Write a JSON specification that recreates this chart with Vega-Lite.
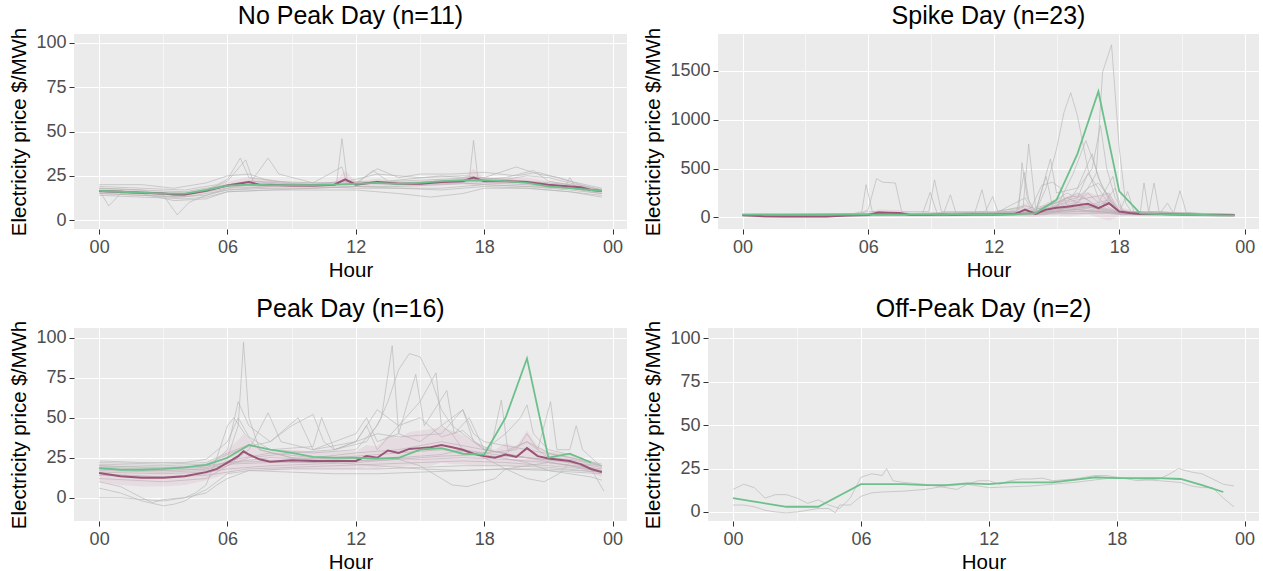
{
"$schema": "https://vega.github.io/schema/vega-lite/v6.json",
"padding": {"left": 9, "top": 4, "right": 0, "bottom": 0},
"spacing": 16,
"config": {
 "view": {"fill": "#EBEBEB", "stroke": null},
 "font": "Liberation Sans",
 "axis": {"domain": false, "gridColor": "#FFFFFF", "tickColor": "#333333", "tickSize": 5, "tickWidth": 1, "labelColor": "#4D4D4D", "labelFontSize": 18, "titleFontSize": 20.5, "titleFontWeight": "normal", "titleColor": "#000000", "labelPadding": 4.5, "titlePadding": 4, "labelFlush": false, "labelOverlap": false},
 "axisY": {"titlePadding": 6, "labelPadding": 3},
 "title": {"fontSize": 25, "fontWeight": "normal", "color": "#000000", "anchor": "middle", "frame": "group", "offset": -2}
},
"datasets": {
"g1": [
{"s":1,"h":0,"v":19},{"s":1,"h":2,"v":18},{"s":1,"h":4,"v":17},{"s":1,"h":5.5,"v":20},{"s":1,"h":6,"v":23},{"s":1,"h":6.6,"v":35},{"s":1,"h":7,"v":24},{"s":1,"h":9,"v":21},{"s":1,"h":11,"v":21},{"s":1,"h":12,"v":23},{"s":1,"h":13,"v":26},{"s":1,"h":15,"v":24},{"s":1,"h":17,"v":25},{"s":1,"h":18,"v":24},{"s":1,"h":19.5,"v":30},{"s":1,"h":20.5,"v":26},{"s":1,"h":21.5,"v":24},{"s":1,"h":22.5,"v":20},{"s":1,"h":23.5,"v":17},
{"s":2,"h":0,"v":17},{"s":2,"h":0.45,"v":8},{"s":2,"h":1,"v":15},{"s":2,"h":3,"v":15},{"s":2,"h":4,"v":14},{"s":2,"h":5,"v":17},{"s":2,"h":6,"v":22},{"s":2,"h":6.85,"v":34},{"s":2,"h":7.2,"v":22},{"s":2,"h":10,"v":20},{"s":2,"h":11.1,"v":21},{"s":2,"h":11.35,"v":46},{"s":2,"h":11.6,"v":22},{"s":2,"h":14,"v":21},{"s":2,"h":16,"v":22},{"s":2,"h":17.3,"v":22},{"s":2,"h":17.5,"v":45},{"s":2,"h":17.7,"v":24},{"s":2,"h":20,"v":22},{"s":2,"h":22,"v":20},{"s":2,"h":23.5,"v":16},
{"s":3,"h":0,"v":18},{"s":3,"h":2,"v":17},{"s":3,"h":3,"v":14},{"s":3,"h":3.65,"v":3},{"s":3,"h":4.2,"v":10},{"s":3,"h":5,"v":14},{"s":3,"h":6,"v":18},{"s":3,"h":7,"v":20},{"s":3,"h":7.9,"v":35},{"s":3,"h":8.4,"v":26},{"s":3,"h":10,"v":21},{"s":3,"h":11.35,"v":30},{"s":3,"h":11.6,"v":20},{"s":3,"h":13,"v":22},{"s":3,"h":15,"v":20},{"s":3,"h":17,"v":21},{"s":3,"h":18,"v":20},{"s":3,"h":20,"v":19},{"s":3,"h":22,"v":18},{"s":3,"h":23.5,"v":15},
{"s":4,"h":0,"v":15},{"s":4,"h":2,"v":14},{"s":4,"h":4,"v":13},{"s":4,"h":6,"v":17},{"s":4,"h":8,"v":18},{"s":4,"h":10,"v":18},{"s":4,"h":12,"v":19},{"s":4,"h":14,"v":18},{"s":4,"h":16,"v":17},{"s":4,"h":18,"v":19},{"s":4,"h":20,"v":18},{"s":4,"h":22,"v":16},{"s":4,"h":23.5,"v":14},
{"s":5,"h":0,"v":16},{"s":5,"h":2,"v":15},{"s":5,"h":4,"v":14},{"s":5,"h":6,"v":18},{"s":5,"h":8,"v":19},{"s":5,"h":10,"v":20},{"s":5,"h":12,"v":20},{"s":5,"h":12.8,"v":28},{"s":5,"h":13.5,"v":22},{"s":5,"h":16,"v":25},{"s":5,"h":18,"v":23},{"s":5,"h":19,"v":24},{"s":5,"h":20.3,"v":28},{"s":5,"h":21,"v":22},{"s":5,"h":23.5,"v":17},
{"s":6,"h":0,"v":14},{"s":6,"h":2,"v":13},{"s":6,"h":4,"v":12},{"s":6,"h":5,"v":13},{"s":6,"h":6,"v":16},{"s":6,"h":8,"v":17},{"s":6,"h":10,"v":17},{"s":6,"h":12,"v":17},{"s":6,"h":14,"v":15},{"s":6,"h":15.5,"v":13},{"s":6,"h":17,"v":15},{"s":6,"h":18,"v":18},{"s":6,"h":20,"v":18},{"s":6,"h":22,"v":16},{"s":6,"h":23.5,"v":13},
{"s":7,"h":0,"v":20},{"s":7,"h":2,"v":20},{"s":7,"h":3.5,"v":18},{"s":7,"h":5,"v":21},{"s":7,"h":6,"v":25},{"s":7,"h":7,"v":26},{"s":7,"h":8,"v":22},{"s":7,"h":10,"v":21},{"s":7,"h":12,"v":21},{"s":7,"h":13,"v":29},{"s":7,"h":14,"v":24},{"s":7,"h":15,"v":26},{"s":7,"h":16.5,"v":26},{"s":7,"h":18,"v":27},{"s":7,"h":19.5,"v":25},{"s":7,"h":20.5,"v":27},{"s":7,"h":22,"v":22},{"s":7,"h":23.5,"v":18},
{"s":8,"h":0,"v":17},{"s":8,"h":2,"v":16},{"s":8,"h":4,"v":15},{"s":8,"h":6,"v":19},{"s":8,"h":8,"v":20},{"s":8,"h":10,"v":19},{"s":8,"h":12,"v":21},{"s":8,"h":14,"v":20},{"s":8,"h":16,"v":21},{"s":8,"h":18,"v":22},{"s":8,"h":20,"v":21},{"s":8,"h":21.8,"v":19},{"s":8,"h":22,"v":24},{"s":8,"h":22.3,"v":18},{"s":8,"h":23.5,"v":16},
{"s":9,"h":0,"v":15},{"s":9,"h":2,"v":14},{"s":9,"h":3.5,"v":13},{"s":9,"h":5,"v":14},{"s":9,"h":6,"v":17},{"s":9,"h":8,"v":19},{"s":9,"h":10,"v":19},{"s":9,"h":12,"v":18},{"s":9,"h":14,"v":18},{"s":9,"h":16,"v":18},{"s":9,"h":18,"v":20},{"s":9,"h":20,"v":19},{"s":9,"h":22,"v":17},{"s":9,"h":23.5,"v":15},
{"s":10,"h":0,"v":18},{"s":10,"h":2,"v":17},{"s":10,"h":4,"v":16},{"s":10,"h":6,"v":20},{"s":10,"h":7,"v":22},{"s":10,"h":8,"v":21},{"s":10,"h":10,"v":20},{"s":10,"h":11.35,"v":22},{"s":10,"h":12,"v":21},{"s":10,"h":14,"v":22},{"s":10,"h":16,"v":23},{"s":10,"h":17.5,"v":24},{"s":10,"h":19,"v":23},{"s":10,"h":20,"v":25},{"s":10,"h":21,"v":24},{"s":10,"h":22,"v":21},{"s":10,"h":23.5,"v":17},
{"s":11,"h":0,"v":16},{"s":11,"h":2,"v":15},{"s":11,"h":3.5,"v":11},{"s":11,"h":5,"v":12},{"s":11,"h":6,"v":16},{"s":11,"h":8,"v":17},{"s":11,"h":10,"v":18},{"s":11,"h":12,"v":19},{"s":11,"h":14,"v":19},{"s":11,"h":16,"v":20},{"s":11,"h":18,"v":21},{"s":11,"h":20,"v":20},{"s":11,"h":22,"v":18},{"s":11,"h":23.5,"v":16}
],
"m1": [
{"h":0,"m":16.5,"lo":15,"hi":18},{"h":1,"m":16,"lo":14.5,"hi":17.5},{"h":2,"m":15.5,"lo":14,"hi":17},{"h":3,"m":15,"lo":13.5,"hi":16.5},{"h":3.5,"m":14.5,"lo":12,"hi":16.5},{"h":4,"m":14.5,"lo":13,"hi":16},{"h":5,"m":16.5,"lo":15,"hi":18},{"h":6,"m":19.5,"lo":18,"hi":21.5},{"h":7,"m":21.5,"lo":19,"hi":24.5},{"h":7.5,"m":20,"lo":17.5,"hi":23},{"h":8,"m":20,"lo":17.5,"hi":23},{"h":9,"m":19.5,"lo":18,"hi":21},{"h":10,"m":19.5,"lo":18,"hi":21},{"h":11,"m":20,"lo":18.5,"hi":21.5},{"h":11.5,"m":23,"lo":18,"hi":28},{"h":12,"m":20,"lo":18.5,"hi":21.5},{"h":13,"m":21.5,"lo":19.5,"hi":23.5},{"h":14,"m":20.5,"lo":19,"hi":22},{"h":15,"m":20.5,"lo":19,"hi":22},{"h":16,"m":21.5,"lo":19.5,"hi":23.5},{"h":17,"m":22,"lo":20.5,"hi":23.5},{"h":17.5,"m":24,"lo":19,"hi":29},{"h":18,"m":22,"lo":20.5,"hi":23.5},{"h":19,"m":22,"lo":20.5,"hi":24},{"h":20,"m":21.5,"lo":19.5,"hi":24},{"h":21,"m":20,"lo":18,"hi":22},{"h":22,"m":19,"lo":17.5,"hi":20.5},{"h":22.5,"m":18.5,"lo":17,"hi":20},{"h":23,"m":17,"lo":15.5,"hi":18.5},{"h":23.5,"m":16.5,"lo":15,"hi":18}
],
"c1": [
{"h":0,"v":16.5},{"h":1,"v":16},{"h":2,"v":15.5},{"h":3,"v":15},{"h":4,"v":15},{"h":5,"v":17},{"h":6,"v":19.5},{"h":7,"v":20},{"h":8,"v":19.8},{"h":9,"v":19.8},{"h":10,"v":19.8},{"h":11,"v":20},{"h":12,"v":20.5},{"h":13,"v":21},{"h":14,"v":20.5},{"h":15,"v":21},{"h":16,"v":22},{"h":17,"v":22.5},{"h":18,"v":22.5},{"h":19,"v":22},{"h":20,"v":21},{"h":21,"v":19},{"h":22,"v":18},{"h":23,"v":17},{"h":23.5,"v":16.5}
],
"g2": [
{"s":1,"h":0,"v":25},{"s":1,"h":5,"v":25},{"s":1,"h":5.7,"v":60},{"s":1,"h":5.9,"v":335},{"s":1,"h":6.2,"v":60},{"s":1,"h":8,"v":40},{"s":1,"h":12,"v":40},{"s":1,"h":13.2,"v":80},{"s":1,"h":13.35,"v":560},{"s":1,"h":13.6,"v":200},{"s":1,"h":14,"v":60},{"s":1,"h":16,"v":80},{"s":1,"h":18,"v":40},{"s":1,"h":23.5,"v":25},
{"s":2,"h":0,"v":20},{"s":2,"h":5.5,"v":30},{"s":2,"h":6,"v":80},{"s":2,"h":6.4,"v":397},{"s":2,"h":6.7,"v":360},{"s":2,"h":7.3,"v":352},{"s":2,"h":7.6,"v":60},{"s":2,"h":8.9,"v":60},{"s":2,"h":9.17,"v":385},{"s":2,"h":9.5,"v":60},{"s":2,"h":12,"v":60},{"s":2,"h":13.4,"v":100},{"s":2,"h":13.67,"v":750},{"s":2,"h":14,"v":100},{"s":2,"h":15,"v":150},{"s":2,"h":16,"v":250},{"s":2,"h":17,"v":100},{"s":2,"h":18,"v":50},{"s":2,"h":23.5,"v":20},
{"s":3,"h":0,"v":30},{"s":3,"h":8.6,"v":40},{"s":3,"h":8.96,"v":256},{"s":3,"h":9.3,"v":40},{"s":3,"h":11.1,"v":50},{"s":3,"h":11.44,"v":283},{"s":3,"h":11.7,"v":50},{"s":3,"h":14,"v":60},{"s":3,"h":14.71,"v":597},{"s":3,"h":15,"v":250},{"s":3,"h":16,"v":300},{"s":3,"h":16.7,"v":650},{"s":3,"h":17,"v":400},{"s":3,"h":17.5,"v":200},{"s":3,"h":18,"v":80},{"s":3,"h":19,"v":40},{"s":3,"h":23.5,"v":30},
{"s":4,"h":0,"v":25},{"s":4,"h":9.6,"v":40},{"s":4,"h":9.93,"v":232},{"s":4,"h":10.2,"v":40},{"s":4,"h":11.6,"v":60},{"s":4,"h":11.95,"v":214},{"s":4,"h":12.2,"v":60},{"s":4,"h":13.1,"v":60},{"s":4,"h":13.46,"v":461},{"s":4,"h":13.7,"v":150},{"s":4,"h":14,"v":50},{"s":4,"h":15,"v":60},{"s":4,"h":16,"v":80},{"s":4,"h":17,"v":120},{"s":4,"h":18,"v":50},{"s":4,"h":23.5,"v":25},
{"s":5,"h":0,"v":30},{"s":5,"h":12,"v":40},{"s":5,"h":14,"v":60},{"s":5,"h":14.5,"v":300},{"s":5,"h":15,"v":700},{"s":5,"h":15.36,"v":1076},{"s":5,"h":15.68,"v":1274},{"s":5,"h":16,"v":1040},{"s":5,"h":16.5,"v":495},{"s":5,"h":17,"v":200},{"s":5,"h":17.5,"v":100},{"s":5,"h":18,"v":50},{"s":5,"h":23.5,"v":30},
{"s":6,"h":0,"v":20},{"s":6,"h":12,"v":30},{"s":6,"h":15,"v":60},{"s":6,"h":16,"v":150},{"s":6,"h":16.5,"v":300},{"s":6,"h":16.9,"v":450},{"s":6,"h":17.2,"v":1485},{"s":6,"h":17.63,"v":1765},{"s":6,"h":18,"v":700},{"s":6,"h":18.3,"v":150},{"s":6,"h":18.6,"v":50},{"s":6,"h":23.5,"v":20},
{"s":7,"h":0,"v":25},{"s":7,"h":13,"v":40},{"s":7,"h":13.8,"v":100},{"s":7,"h":14.3,"v":330},{"s":7,"h":14.8,"v":360},{"s":7,"h":15.2,"v":300},{"s":7,"h":15.5,"v":120},{"s":7,"h":16,"v":80},{"s":7,"h":17,"v":60},{"s":7,"h":18,"v":40},{"s":7,"h":23.5,"v":25},
{"s":8,"h":0,"v":20},{"s":8,"h":14,"v":40},{"s":8,"h":15,"v":100},{"s":8,"h":15.8,"v":450},{"s":8,"h":16.4,"v":785},{"s":8,"h":16.8,"v":550},{"s":8,"h":17.2,"v":300},{"s":8,"h":17.6,"v":150},{"s":8,"h":18,"v":60},{"s":8,"h":23.5,"v":20},
{"s":9,"h":0,"v":30},{"s":9,"h":14,"v":40},{"s":9,"h":15.5,"v":150},{"s":9,"h":16.2,"v":350},{"s":9,"h":16.7,"v":500},{"s":9,"h":17.1,"v":940},{"s":9,"h":17.4,"v":500},{"s":9,"h":17.8,"v":200},{"s":9,"h":18.2,"v":60},{"s":9,"h":23.5,"v":30},
{"s":10,"h":0,"v":25},{"s":10,"h":17,"v":60},{"s":10,"h":17.8,"v":300},{"s":10,"h":18.1,"v":100},{"s":10,"h":18.4,"v":266},{"s":10,"h":18.7,"v":60},{"s":10,"h":19,"v":40},{"s":10,"h":19.18,"v":352},{"s":10,"h":19.4,"v":60},{"s":10,"h":23.5,"v":25},
{"s":11,"h":0,"v":20},{"s":11,"h":17,"v":40},{"s":11,"h":18,"v":60},{"s":11,"h":19.4,"v":50},{"s":11,"h":19.66,"v":352},{"s":11,"h":19.9,"v":60},{"s":11,"h":20.6,"v":50},{"s":11,"h":20.9,"v":273},{"s":11,"h":21.2,"v":50},{"s":11,"h":23.5,"v":20},
{"s":12,"h":0,"v":25},{"s":12,"h":14,"v":30},{"s":12,"h":15,"v":120},{"s":12,"h":15.5,"v":200},{"s":12,"h":16,"v":150},{"s":12,"h":16.5,"v":250},{"s":12,"h":17,"v":150},{"s":12,"h":17.5,"v":180},{"s":12,"h":18,"v":60},{"s":12,"h":20,"v":60},{"s":12,"h":20.3,"v":147},{"s":12,"h":20.6,"v":40},{"s":12,"h":23.5,"v":25},
{"s":13,"h":0,"v":30},{"s":13,"h":13,"v":35},{"s":13,"h":14,"v":50},{"s":13,"h":15,"v":180},{"s":13,"h":15.5,"v":250},{"s":13,"h":16,"v":200},{"s":13,"h":16.5,"v":300},{"s":13,"h":17,"v":350},{"s":13,"h":17.4,"v":250},{"s":13,"h":18,"v":40},{"s":13,"h":23.5,"v":30},
{"s":14,"h":0,"v":20},{"s":14,"h":13,"v":30},{"s":14,"h":14,"v":80},{"s":14,"h":15,"v":150},{"s":14,"h":16,"v":200},{"s":14,"h":16.5,"v":450},{"s":14,"h":17,"v":300},{"s":14,"h":17.3,"v":200},{"s":14,"h":18,"v":30},{"s":14,"h":23.5,"v":20},
{"s":15,"h":0,"v":25},{"s":15,"h":6,"v":30},{"s":15,"h":6.5,"v":60},{"s":15,"h":7,"v":40},{"s":15,"h":12,"v":35},{"s":15,"h":14,"v":45},{"s":15,"h":15,"v":80},{"s":15,"h":16,"v":100},{"s":15,"h":17,"v":150},{"s":15,"h":17.7,"v":420},{"s":15,"h":18,"v":100},{"s":15,"h":18.5,"v":30},{"s":15,"h":23.5,"v":25},
{"s":16,"h":0,"v":15},{"s":16,"h":12,"v":25},{"s":16,"h":13.5,"v":40},{"s":16,"h":14.5,"v":50},{"s":16,"h":15,"v":60},{"s":16,"h":16,"v":80},{"s":16,"h":17,"v":60},{"s":16,"h":18,"v":40},{"s":16,"h":23.5,"v":15},
{"s":17,"h":0,"v":30},{"s":17,"h":5.5,"v":40},{"s":17,"h":6,"v":60},{"s":17,"h":7,"v":50},{"s":17,"h":8,"v":40},{"s":17,"h":12,"v":50},{"s":17,"h":13.5,"v":120},{"s":17,"h":14,"v":90},{"s":17,"h":15,"v":100},{"s":17,"h":16,"v":160},{"s":17,"h":17,"v":80},{"s":17,"h":18,"v":40},{"s":17,"h":23.5,"v":30},
{"s":18,"h":0,"v":10},{"s":18,"h":1,"v":5},{"s":18,"h":4,"v":5},{"s":18,"h":5,"v":15},{"s":18,"h":12,"v":20},{"s":18,"h":14,"v":30},{"s":18,"h":15,"v":50},{"s":18,"h":16,"v":60},{"s":18,"h":17,"v":50},{"s":18,"h":18,"v":30},{"s":18,"h":23.5,"v":10},
{"s":19,"h":0,"v":35},{"s":19,"h":6,"v":40},{"s":19,"h":12,"v":45},{"s":19,"h":14,"v":60},{"s":19,"h":15.5,"v":200},{"s":19,"h":16,"v":220},{"s":19,"h":16.5,"v":180},{"s":19,"h":17,"v":100},{"s":19,"h":18,"v":50},{"s":19,"h":21,"v":45},{"s":19,"h":23.5,"v":35},
{"s":20,"h":0,"v":22},{"s":20,"h":10,"v":30},{"s":20,"h":12,"v":30},{"s":20,"h":13,"v":50},{"s":20,"h":14,"v":40},{"s":20,"h":15,"v":90},{"s":20,"h":16,"v":110},{"s":20,"h":17,"v":70},{"s":20,"h":18,"v":35},{"s":20,"h":23.5,"v":22},
{"s":21,"h":0,"v":28},{"s":21,"h":12,"v":35},{"s":21,"h":13.5,"v":200},{"s":21,"h":13.8,"v":80},{"s":21,"h":14,"v":50},{"s":21,"h":15,"v":130},{"s":21,"h":16,"v":180},{"s":21,"h":17,"v":220},{"s":21,"h":17.5,"v":250},{"s":21,"h":18,"v":60},{"s":21,"h":23.5,"v":28},
{"s":22,"h":0,"v":18},{"s":22,"h":12,"v":25},{"s":22,"h":14.5,"v":30},{"s":22,"h":15,"v":60},{"s":22,"h":16,"v":90},{"s":22,"h":17,"v":130},{"s":22,"h":17.5,"v":160},{"s":22,"h":18,"v":50},{"s":22,"h":23.5,"v":18},
{"s":23,"h":0,"v":25},{"s":23,"h":7,"v":30},{"s":23,"h":12,"v":35},{"s":23,"h":14,"v":55},{"s":23,"h":14.5,"v":420},{"s":23,"h":14.8,"v":120},{"s":23,"h":15,"v":70},{"s":23,"h":16,"v":120},{"s":23,"h":17,"v":90},{"s":23,"h":18,"v":40},{"s":23,"h":21,"v":30},{"s":23,"h":23.5,"v":25}
],
"m2": [
{"h":0,"m":25,"lo":15,"hi":35},{"h":1,"m":12,"lo":5,"hi":20},{"h":2,"m":10,"lo":3,"hi":18},{"h":3,"m":10,"lo":3,"hi":18},{"h":4,"m":10,"lo":3,"hi":18},{"h":5,"m":20,"lo":10,"hi":30},{"h":6,"m":25,"lo":10,"hi":45},{"h":6.5,"m":50,"lo":20,"hi":85},{"h":7,"m":48,"lo":20,"hi":80},{"h":7.5,"m":45,"lo":20,"hi":75},{"h":8,"m":25,"lo":15,"hi":40},{"h":9,"m":25,"lo":10,"hi":45},{"h":9.5,"m":30,"lo":10,"hi":55},{"h":10,"m":25,"lo":15,"hi":40},{"h":11,"m":30,"lo":15,"hi":45},{"h":12,"m":30,"lo":15,"hi":45},{"h":13,"m":35,"lo":15,"hi":60},{"h":13.5,"m":80,"lo":10,"hi":150},{"h":14,"m":35,"lo":5,"hi":70},{"h":14.5,"m":80,"lo":20,"hi":150},{"h":15,"m":100,"lo":20,"hi":190},{"h":15.5,"m":110,"lo":10,"hi":220},{"h":16,"m":125,"lo":20,"hi":240},{"h":16.5,"m":140,"lo":30,"hi":260},{"h":17,"m":95,"lo":0,"hi":220},{"h":17.5,"m":145,"lo":-30,"hi":250},{"h":18,"m":60,"lo":10,"hi":110},{"h":18.5,"m":45,"lo":20,"hi":75},{"h":19,"m":35,"lo":20,"hi":55},{"h":20,"m":35,"lo":20,"hi":55},{"h":21,"m":30,"lo":20,"hi":45},{"h":22,"m":25,"lo":15,"hi":35},{"h":23,"m":25,"lo":15,"hi":35},{"h":23.5,"m":25,"lo":15,"hi":35}
],
"c2": [
{"h":0,"v":28},{"h":1,"v":28},{"h":2,"v":27},{"h":3,"v":27},{"h":4,"v":27},{"h":5,"v":28},{"h":6,"v":28},{"h":7,"v":29},{"h":8,"v":29},{"h":9,"v":30},{"h":10,"v":30},{"h":11,"v":31},{"h":12,"v":31},{"h":13,"v":33},{"h":14,"v":45},{"h":15,"v":180},{"h":16,"v":650},{"h":17,"v":1287},{"h":18,"v":266},{"h":19,"v":41},{"h":20,"v":35},{"h":21,"v":30},{"h":22,"v":25},{"h":23,"v":22},{"h":23.5,"v":22}
],
"g3": [
{"s":1,"h":0,"v":20},{"s":1,"h":2,"v":19},{"s":1,"h":4,"v":19},{"s":1,"h":5,"v":20},{"s":1,"h":6,"v":25},{"s":1,"h":6.5,"v":45},{"s":1,"h":6.75,"v":97},{"s":1,"h":7,"v":50},{"s":1,"h":7.5,"v":30},{"s":1,"h":9,"v":25},{"s":1,"h":11,"v":24},{"s":1,"h":13,"v":25},{"s":1,"h":15,"v":24},{"s":1,"h":17,"v":25},{"s":1,"h":19,"v":24},{"s":1,"h":21,"v":22},{"s":1,"h":23.5,"v":18},
{"s":2,"h":0,"v":23},{"s":2,"h":2,"v":22},{"s":2,"h":4,"v":22},{"s":2,"h":5,"v":24},{"s":2,"h":6,"v":35},{"s":2,"h":6.5,"v":50},{"s":2,"h":7,"v":38},{"s":2,"h":8,"v":30},{"s":2,"h":10,"v":28},{"s":2,"h":12,"v":30},{"s":2,"h":13,"v":45},{"s":2,"h":13.5,"v":60},{"s":2,"h":14,"v":80},{"s":2,"h":14.5,"v":90},{"s":2,"h":15,"v":88},{"s":2,"h":15.5,"v":75},{"s":2,"h":16,"v":55},{"s":2,"h":16.5,"v":45},{"s":2,"h":17,"v":40},{"s":2,"h":18,"v":30},{"s":2,"h":20,"v":25},{"s":2,"h":22,"v":22},{"s":2,"h":23.5,"v":20},
{"s":3,"h":0,"v":15},{"s":3,"h":3,"v":13},{"s":3,"h":5,"v":15},{"s":3,"h":6,"v":20},{"s":3,"h":7,"v":25},{"s":3,"h":9,"v":28},{"s":3,"h":11,"v":30},{"s":3,"h":12.5,"v":35},{"s":3,"h":13.2,"v":50},{"s":3,"h":13.7,"v":95},{"s":3,"h":14,"v":40},{"s":3,"h":15,"v":35},{"s":3,"h":16,"v":45},{"s":3,"h":16.5,"v":40},{"s":3,"h":17,"v":30},{"s":3,"h":19,"v":26},{"s":3,"h":21,"v":24},{"s":3,"h":23.5,"v":19},
{"s":4,"h":0,"v":18},{"s":4,"h":3,"v":17},{"s":4,"h":5,"v":18},{"s":4,"h":6,"v":30},{"s":4,"h":6.5,"v":60},{"s":4,"h":7,"v":45},{"s":4,"h":8,"v":35},{"s":4,"h":9.3,"v":50},{"s":4,"h":10,"v":30},{"s":4,"h":12,"v":35},{"s":4,"h":13,"v":55},{"s":4,"h":14,"v":45},{"s":4,"h":15,"v":60},{"s":4,"h":15.75,"v":78},{"s":4,"h":16,"v":45},{"s":4,"h":17,"v":55},{"s":4,"h":17.5,"v":40},{"s":4,"h":18,"v":35},{"s":4,"h":20,"v":30},{"s":4,"h":22,"v":25},{"s":4,"h":23.5,"v":20},
{"s":5,"h":0,"v":12},{"s":5,"h":3,"v":10},{"s":5,"h":5,"v":12},{"s":5,"h":6,"v":20},{"s":5,"h":7,"v":30},{"s":5,"h":7.9,"v":53},{"s":5,"h":8.5,"v":35},{"s":5,"h":10,"v":30},{"s":5,"h":12,"v":40},{"s":5,"h":12.5,"v":50},{"s":5,"h":13,"v":35},{"s":5,"h":14,"v":40},{"s":5,"h":14.8,"v":77},{"s":5,"h":15.2,"v":45},{"s":5,"h":16.25,"v":67},{"s":5,"h":16.6,"v":40},{"s":5,"h":17.3,"v":50},{"s":5,"h":18,"v":30},{"s":5,"h":20,"v":25},{"s":5,"h":22,"v":20},{"s":5,"h":23.5,"v":16},
{"s":6,"h":0,"v":22},{"s":6,"h":3,"v":21},{"s":6,"h":5,"v":22},{"s":6,"h":6,"v":28},{"s":6,"h":7,"v":33},{"s":6,"h":8,"v":30},{"s":6,"h":10,"v":32},{"s":6,"h":10.4,"v":50},{"s":6,"h":11,"v":30},{"s":6,"h":13,"v":40},{"s":6,"h":14,"v":38},{"s":6,"h":16,"v":40},{"s":6,"h":17,"v":55},{"s":6,"h":17.5,"v":35},{"s":6,"h":18.3,"v":30},{"s":6,"h":18.8,"v":61},{"s":6,"h":19.1,"v":30},{"s":6,"h":20,"v":35},{"s":6,"h":21,"v":28},{"s":6,"h":23.5,"v":21},
{"s":7,"h":0,"v":17},{"s":7,"h":3,"v":16},{"s":7,"h":5,"v":17},{"s":7,"h":6,"v":23},{"s":7,"h":8,"v":28},{"s":7,"h":10,"v":25},{"s":7,"h":12,"v":28},{"s":7,"h":14,"v":30},{"s":7,"h":16,"v":35},{"s":7,"h":18,"v":30},{"s":7,"h":19,"v":40},{"s":7,"h":19.7,"v":50},{"s":7,"h":20,"v":58},{"s":7,"h":20.3,"v":40},{"s":7,"h":21,"v":30},{"s":7,"h":22,"v":27},{"s":7,"h":23.5,"v":20},
{"s":8,"h":0,"v":19},{"s":8,"h":3,"v":18},{"s":8,"h":5,"v":19},{"s":8,"h":6,"v":22},{"s":8,"h":8,"v":25},{"s":8,"h":10,"v":24},{"s":8,"h":12,"v":26},{"s":8,"h":14,"v":28},{"s":8,"h":16,"v":30},{"s":8,"h":18,"v":28},{"s":8,"h":19.5,"v":30},{"s":8,"h":20,"v":40},{"s":8,"h":20.5,"v":30},{"s":8,"h":21.1,"v":60},{"s":8,"h":21.4,"v":30},{"s":8,"h":22,"v":30},{"s":8,"h":22.3,"v":45},{"s":8,"h":22.6,"v":30},{"s":8,"h":23.5,"v":19},
{"s":9,"h":0,"v":0},{"s":9,"h":1,"v":0},{"s":9,"h":2,"v":-1},{"s":9,"h":3,"v":-2},{"s":9,"h":4,"v":0},{"s":9,"h":4.5,"v":3},{"s":9,"h":5,"v":8},{"s":9,"h":5.5,"v":25},{"s":9,"h":6,"v":45},{"s":9,"h":6.3,"v":50},{"s":9,"h":6.8,"v":40},{"s":9,"h":7.5,"v":30},{"s":9,"h":9,"v":25},{"s":9,"h":11,"v":22},{"s":9,"h":13,"v":20},{"s":9,"h":15,"v":18},{"s":9,"h":17,"v":17},{"s":9,"h":19,"v":18},{"s":9,"h":21,"v":17},{"s":9,"h":23.5,"v":15},
{"s":10,"h":0,"v":6},{"s":10,"h":1,"v":3},{"s":10,"h":2,"v":-2},{"s":10,"h":3,"v":-5},{"s":10,"h":3.5,"v":-4},{"s":10,"h":4,"v":-2},{"s":10,"h":4.5,"v":2},{"s":10,"h":5,"v":5},{"s":10,"h":5.5,"v":10},{"s":10,"h":6,"v":15},{"s":10,"h":7,"v":17},{"s":10,"h":9,"v":16},{"s":10,"h":11,"v":15},{"s":10,"h":13,"v":15},{"s":10,"h":15,"v":16},{"s":10,"h":17,"v":17},{"s":10,"h":19,"v":18},{"s":10,"h":21,"v":18},{"s":10,"h":23.5,"v":16},
{"s":11,"h":0,"v":10},{"s":11,"h":1,"v":7},{"s":11,"h":2,"v":0},{"s":11,"h":2.5,"v":-3},{"s":11,"h":3,"v":-1},{"s":11,"h":4,"v":0},{"s":11,"h":5,"v":3},{"s":11,"h":5.5,"v":8},{"s":11,"h":6,"v":12},{"s":11,"h":7,"v":17},{"s":11,"h":9,"v":18},{"s":11,"h":11,"v":18},{"s":11,"h":13,"v":18},{"s":11,"h":15,"v":19},{"s":11,"h":17,"v":20},{"s":11,"h":19,"v":20},{"s":11,"h":21,"v":19},{"s":11,"h":23.5,"v":16},
{"s":12,"h":0,"v":16},{"s":12,"h":3,"v":15},{"s":12,"h":5,"v":16},{"s":12,"h":6,"v":18},{"s":12,"h":8,"v":20},{"s":12,"h":10,"v":21},{"s":12,"h":12,"v":22},{"s":12,"h":14,"v":24},{"s":12,"h":15,"v":20},{"s":12,"h":16,"v":12},{"s":12,"h":16.5,"v":8},{"s":12,"h":17.2,"v":7},{"s":12,"h":18,"v":10},{"s":12,"h":18.5,"v":12},{"s":12,"h":19,"v":18},{"s":12,"h":20,"v":20},{"s":12,"h":21,"v":22},{"s":12,"h":23.5,"v":17},
{"s":13,"h":0,"v":20},{"s":13,"h":3,"v":19},{"s":13,"h":5,"v":20},{"s":13,"h":6,"v":22},{"s":13,"h":8,"v":23},{"s":13,"h":10,"v":22},{"s":13,"h":12,"v":23},{"s":13,"h":14,"v":25},{"s":13,"h":16,"v":27},{"s":13,"h":17,"v":30},{"s":13,"h":18,"v":25},{"s":13,"h":19,"v":18},{"s":13,"h":20,"v":12},{"s":13,"h":20.8,"v":10},{"s":13,"h":21.5,"v":15},{"s":13,"h":22,"v":22},{"s":13,"h":23,"v":18},{"s":13,"h":23.6,"v":4},
{"s":14,"h":0,"v":14},{"s":14,"h":3,"v":13},{"s":14,"h":5,"v":14},{"s":14,"h":6,"v":16},{"s":14,"h":7,"v":18},{"s":14,"h":9,"v":19},{"s":14,"h":11,"v":20},{"s":14,"h":13,"v":21},{"s":14,"h":15,"v":22},{"s":14,"h":17,"v":23},{"s":14,"h":19,"v":22},{"s":14,"h":21,"v":20},{"s":14,"h":23.5,"v":17},
{"s":15,"h":0,"v":21},{"s":15,"h":3,"v":20},{"s":15,"h":5,"v":21},{"s":15,"h":6,"v":27},{"s":15,"h":7,"v":32},{"s":15,"h":8,"v":35},{"s":15,"h":9,"v":45},{"s":15,"h":10,"v":52},{"s":15,"h":10.5,"v":35},{"s":15,"h":11,"v":30},{"s":15,"h":12,"v":35},{"s":15,"h":12.5,"v":45},{"s":15,"h":13,"v":30},{"s":15,"h":14,"v":45},{"s":15,"h":15,"v":50},{"s":15,"h":16,"v":38},{"s":15,"h":17,"v":42},{"s":15,"h":18,"v":30},{"s":15,"h":19,"v":28},{"s":15,"h":20,"v":35},{"s":15,"h":21,"v":25},{"s":15,"h":22,"v":24},{"s":15,"h":23.5,"v":20},
{"s":16,"h":0,"v":18},{"s":16,"h":3,"v":17},{"s":16,"h":5,"v":18},{"s":16,"h":6,"v":21},{"s":16,"h":8,"v":22},{"s":16,"h":10,"v":22},{"s":16,"h":12,"v":23},{"s":16,"h":14,"v":24},{"s":16,"h":16,"v":26},{"s":16,"h":18,"v":27},{"s":16,"h":20,"v":22},{"s":16,"h":21,"v":17},{"s":16,"h":22,"v":15},{"s":16,"h":23,"v":13},{"s":16,"h":23.5,"v":11}
],
"m3": [
{"h":0,"m":15.5,"lo":10,"hi":21},{"h":1,"m":13.5,"lo":8,"hi":19},{"h":2,"m":12.5,"lo":7,"hi":18},{"h":3,"m":12.5,"lo":7,"hi":18},{"h":4,"m":13.5,"lo":8,"hi":19},{"h":5,"m":16,"lo":11,"hi":21},{"h":5.5,"m":18,"lo":13,"hi":23},{"h":6,"m":22,"lo":15,"hi":30},{"h":6.5,"m":26,"lo":17,"hi":36},{"h":6.75,"m":29,"lo":18,"hi":40},{"h":7,"m":27,"lo":18,"hi":36},{"h":7.5,"m":24,"lo":18,"hi":31},{"h":8,"m":22.5,"lo":17,"hi":29},{"h":9,"m":23.5,"lo":18,"hi":30},{"h":10,"m":23,"lo":18,"hi":29},{"h":11,"m":23,"lo":18,"hi":29},{"h":12,"m":23,"lo":18,"hi":29},{"h":12.5,"m":26,"lo":19,"hi":33},{"h":13,"m":25,"lo":18,"hi":32},{"h":13.5,"m":29.5,"lo":20,"hi":39},{"h":14,"m":28,"lo":19,"hi":37},{"h":14.5,"m":30.5,"lo":20,"hi":41},{"h":15,"m":31,"lo":20,"hi":42},{"h":15.5,"m":31.5,"lo":20,"hi":43},{"h":16,"m":33,"lo":22,"hi":44},{"h":16.5,"m":31.5,"lo":21,"hi":42},{"h":17,"m":30,"lo":21,"hi":39},{"h":17.5,"m":27.5,"lo":20,"hi":35},{"h":18,"m":26,"lo":20,"hi":32},{"h":18.5,"m":25,"lo":20,"hi":30},{"h":19,"m":27,"lo":20,"hi":34},{"h":19.5,"m":25.5,"lo":19,"hi":32},{"h":20,"m":31,"lo":20,"hi":42},{"h":20.5,"m":26,"lo":20,"hi":32},{"h":21,"m":24.5,"lo":20,"hi":29},{"h":22,"m":23,"lo":19,"hi":27},{"h":22.5,"m":21,"lo":18,"hi":24},{"h":23,"m":18,"lo":15.5,"hi":20.5},{"h":23.5,"m":16,"lo":13,"hi":19}
],
"c3": [
{"h":0,"v":18.5},{"h":1,"v":17.5},{"h":2,"v":17.5},{"h":3,"v":18},{"h":4,"v":19},{"h":5,"v":20.5},{"h":6,"v":25},{"h":7,"v":33},{"h":8,"v":30},{"h":9,"v":28},{"h":10,"v":25.5},{"h":11,"v":25},{"h":12,"v":25},{"h":13,"v":24.5},{"h":14,"v":25},{"h":15,"v":30},{"h":16,"v":31},{"h":17,"v":27.5},{"h":18,"v":27},{"h":19,"v":50},{"h":20,"v":87},{"h":21,"v":25},{"h":22,"v":27.5},{"h":23,"v":22}
],
"g4": [
{"s":1,"h":0,"v":13},{"s":1,"h":0.5,"v":16},{"s":1,"h":1,"v":14},{"s":1,"h":1.5,"v":8},{"s":1,"h":2,"v":10},{"s":1,"h":2.5,"v":10},{"s":1,"h":3,"v":8},{"s":1,"h":3.5,"v":5},{"s":1,"h":4,"v":7},{"s":1,"h":4.5,"v":4},{"s":1,"h":5,"v":2},{"s":1,"h":5.5,"v":8},{"s":1,"h":6,"v":20},{"s":1,"h":6.5,"v":22},{"s":1,"h":7,"v":21},{"s":1,"h":7.2,"v":25},{"s":1,"h":7.5,"v":18},{"s":1,"h":8,"v":17},{"s":1,"h":9,"v":16},{"s":1,"h":10,"v":14},{"s":1,"h":10.5,"v":13},{"s":1,"h":11,"v":16},{"s":1,"h":11.5,"v":18},{"s":1,"h":12,"v":18},{"s":1,"h":12.5,"v":16},{"s":1,"h":13,"v":18},{"s":1,"h":13.5,"v":19},{"s":1,"h":14,"v":19},{"s":1,"h":14.5,"v":19.5},{"s":1,"h":15,"v":18},{"s":1,"h":16,"v":19},{"s":1,"h":16.5,"v":20},{"s":1,"h":17,"v":21},{"s":1,"h":17.5,"v":21},{"s":1,"h":18,"v":20},{"s":1,"h":19,"v":18},{"s":1,"h":20,"v":19},{"s":1,"h":20.5,"v":22},{"s":1,"h":20.9,"v":25},{"s":1,"h":21.5,"v":23},{"s":1,"h":22,"v":22},{"s":1,"h":22.5,"v":19},{"s":1,"h":23,"v":16},{"s":1,"h":23.5,"v":15},
{"s":2,"h":0,"v":4},{"s":2,"h":0.5,"v":4},{"s":2,"h":1,"v":3},{"s":2,"h":1.5,"v":1},{"s":2,"h":2,"v":0},{"s":2,"h":2.5,"v":-0.5},{"s":2,"h":3,"v":0},{"s":2,"h":3.5,"v":1},{"s":2,"h":4,"v":2},{"s":2,"h":4.5,"v":2},{"s":2,"h":4.8,"v":-0.5},{"s":2,"h":5,"v":4},{"s":2,"h":5.5,"v":4},{"s":2,"h":6,"v":9},{"s":2,"h":6.5,"v":11},{"s":2,"h":7,"v":11.5},{"s":2,"h":8,"v":12},{"s":2,"h":9,"v":13},{"s":2,"h":10,"v":15},{"s":2,"h":11,"v":16},{"s":2,"h":12,"v":14},{"s":2,"h":13,"v":14.5},{"s":2,"h":14,"v":15},{"s":2,"h":15,"v":16},{"s":2,"h":16,"v":17},{"s":2,"h":17,"v":18.5},{"s":2,"h":18,"v":20},{"s":2,"h":19,"v":19},{"s":2,"h":20,"v":18},{"s":2,"h":21,"v":17},{"s":2,"h":21.5,"v":15},{"s":2,"h":22,"v":14},{"s":2,"h":22.5,"v":14},{"s":2,"h":23,"v":8},{"s":2,"h":23.5,"v":3}
],
"c4": [
{"h":0,"v":8},{"h":1,"v":6},{"h":2,"v":4},{"h":2.5,"v":3},{"h":3,"v":3},{"h":4,"v":3},{"h":5,"v":9.5},{"h":6,"v":16},{"h":7,"v":16},{"h":8,"v":16},{"h":9,"v":15.5},{"h":10,"v":15.5},{"h":11,"v":16.5},{"h":12,"v":16},{"h":13,"v":17},{"h":14,"v":17},{"h":15,"v":17},{"h":16,"v":18.5},{"h":17,"v":20},{"h":18,"v":19.5},{"h":19,"v":19.5},{"h":20,"v":19.5},{"h":21,"v":19},{"h":22,"v":15.5},{"h":23,"v":11.5}
]
},
"vconcat": [
{"spacing": 16, "hconcat": [
 {"width": 553, "height": 195, "title": "No Peak Day (n=11)",
  "layer": [
   {"data": {"name": "g1"}, "mark": {"type": "line", "color": "#B5B5B5", "strokeWidth": 0.8, "opacity": 0.8, "clip": true},
    "encoding": {
     "x": {"field": "h", "type": "quantitative", "title": "Hour", "scale": {"domain": [-1.175, 24.675], "nice": false, "zero": false},
      "axis": {"values": [0,3,6,9,12,15,18,21,24], "labelExpr": "datum.value % 6 == 0 ? (datum.value % 24 < 10 ? '0' : '') + format(datum.value % 24, 'd') : ''", "gridWidth": {"condition": {"test": "datum.value % 6 != 0", "value": 0.55}, "value": 1.1}, "tickOpacity": {"condition": {"test": "datum.value % 6 != 0", "value": 0}, "value": 1}}},
     "y": {"field": "v", "type": "quantitative", "title": "Electricity price $/MWh", "scale": {"domain": [-5, 105], "nice": false, "zero": false},
      "axis": {"values": [0,12.5,25,37.5,50,62.5,75,87.5,100], "labelExpr": "datum.value % 25 == 0 ? format(datum.value, 'd') : ''", "gridWidth": {"condition": {"test": "datum.value % 25 != 0", "value": 0.55}, "value": 1.1}, "tickOpacity": {"condition": {"test": "datum.value % 25 != 0", "value": 0}, "value": 1}}},
     "detail": {"field": "s"}, "order": {"field": "h"}}},
   {"data": {"name": "m1"}, "mark": {"type": "area", "color": "#D8A3BC", "opacity": 0.22, "clip": true},
    "encoding": {"x": {"field": "h", "type": "quantitative", "title": "Hour"}, "y": {"field": "lo", "type": "quantitative", "title": "Electricity price $/MWh"}, "y2": {"field": "hi"}}},
   {"data": {"name": "m1"}, "mark": {"type": "line", "color": "#9A5475", "strokeWidth": 2, "clip": true},
    "encoding": {"x": {"field": "h", "type": "quantitative", "title": "Hour"}, "y": {"field": "m", "type": "quantitative", "title": "Electricity price $/MWh"}}},
   {"data": {"name": "c1"}, "mark": {"type": "line", "color": "#6CC08B", "strokeWidth": 1.8, "clip": true},
    "encoding": {"x": {"field": "h", "type": "quantitative", "title": "Hour"}, "y": {"field": "v", "type": "quantitative", "title": "Electricity price $/MWh"}}}
  ]},
 {"width": 541, "height": 195, "title": "Spike Day (n=23)",
  "layer": [
   {"data": {"name": "g2"}, "mark": {"type": "line", "color": "#B5B5B5", "strokeWidth": 0.8, "opacity": 0.8, "clip": true},
    "encoding": {
     "x": {"field": "h", "type": "quantitative", "title": "Hour", "scale": {"domain": [-1.175, 24.675], "nice": false, "zero": false},
      "axis": {"values": [0,3,6,9,12,15,18,21,24], "labelExpr": "datum.value % 6 == 0 ? (datum.value % 24 < 10 ? '0' : '') + format(datum.value % 24, 'd') : ''", "gridWidth": {"condition": {"test": "datum.value % 6 != 0", "value": 0.55}, "value": 1.1}, "tickOpacity": {"condition": {"test": "datum.value % 6 != 0", "value": 0}, "value": 1}}},
     "y": {"field": "v", "type": "quantitative", "title": "Electricity price $/MWh", "scale": {"domain": [-118, 1875], "nice": false, "zero": false},
      "axis": {"values": [0,250,500,750,1000,1250,1500,1750], "labelExpr": "datum.value % 500 == 0 ? format(datum.value, 'd') : ''", "gridWidth": {"condition": {"test": "datum.value % 500 != 0", "value": 0.55}, "value": 1.1}, "tickOpacity": {"condition": {"test": "datum.value % 500 != 0", "value": 0}, "value": 1}}},
     "detail": {"field": "s"}, "order": {"field": "h"}}},
   {"data": {"name": "m2"}, "mark": {"type": "area", "color": "#D8A3BC", "opacity": 0.22, "clip": true},
    "encoding": {"x": {"field": "h", "type": "quantitative", "title": "Hour"}, "y": {"field": "lo", "type": "quantitative", "title": "Electricity price $/MWh"}, "y2": {"field": "hi"}}},
   {"data": {"name": "m2"}, "mark": {"type": "line", "color": "#9A5475", "strokeWidth": 2, "clip": true},
    "encoding": {"x": {"field": "h", "type": "quantitative", "title": "Hour"}, "y": {"field": "m", "type": "quantitative", "title": "Electricity price $/MWh"}}},
   {"data": {"name": "c2"}, "mark": {"type": "line", "color": "#6CC08B", "strokeWidth": 1.8, "clip": true},
    "encoding": {"x": {"field": "h", "type": "quantitative", "title": "Hour"}, "y": {"field": "v", "type": "quantitative", "title": "Electricity price $/MWh"}}}
  ]}
]},
{"spacing": 16, "hconcat": [
 {"width": 553, "height": 193, "title": "Peak Day (n=16)",
  "layer": [
   {"data": {"name": "g3"}, "mark": {"type": "line", "color": "#B5B5B5", "strokeWidth": 0.8, "opacity": 0.8, "clip": true},
    "encoding": {
     "x": {"field": "h", "type": "quantitative", "title": "Hour", "scale": {"domain": [-1.175, 24.675], "nice": false, "zero": false},
      "axis": {"values": [0,3,6,9,12,15,18,21,24], "labelExpr": "datum.value % 6 == 0 ? (datum.value % 24 < 10 ? '0' : '') + format(datum.value % 24, 'd') : ''", "gridWidth": {"condition": {"test": "datum.value % 6 != 0", "value": 0.55}, "value": 1.1}, "tickOpacity": {"condition": {"test": "datum.value % 6 != 0", "value": 0}, "value": 1}}},
     "y": {"field": "v", "type": "quantitative", "title": "Electricity price $/MWh", "scale": {"domain": [-14.5, 106], "nice": false, "zero": false},
      "axis": {"values": [0,12.5,25,37.5,50,62.5,75,87.5,100], "labelExpr": "datum.value % 25 == 0 ? format(datum.value, 'd') : ''", "gridWidth": {"condition": {"test": "datum.value % 25 != 0", "value": 0.55}, "value": 1.1}, "tickOpacity": {"condition": {"test": "datum.value % 25 != 0", "value": 0}, "value": 1}}},
     "detail": {"field": "s"}, "order": {"field": "h"}}},
   {"data": {"name": "m3"}, "mark": {"type": "area", "color": "#D8A3BC", "opacity": 0.22, "clip": true},
    "encoding": {"x": {"field": "h", "type": "quantitative", "title": "Hour"}, "y": {"field": "lo", "type": "quantitative", "title": "Electricity price $/MWh"}, "y2": {"field": "hi"}}},
   {"data": {"name": "m3"}, "mark": {"type": "line", "color": "#9A5475", "strokeWidth": 2, "clip": true},
    "encoding": {"x": {"field": "h", "type": "quantitative", "title": "Hour"}, "y": {"field": "m", "type": "quantitative", "title": "Electricity price $/MWh"}}},
   {"data": {"name": "c3"}, "mark": {"type": "line", "color": "#6CC08B", "strokeWidth": 1.8, "clip": true},
    "encoding": {"x": {"field": "h", "type": "quantitative", "title": "Hour"}, "y": {"field": "v", "type": "quantitative", "title": "Electricity price $/MWh"}}}
  ]},
 {"width": 551, "height": 193, "title": "Off-Peak Day (n=2)",
  "layer": [
   {"data": {"name": "g4"}, "mark": {"type": "line", "color": "#B5B5B5", "strokeWidth": 0.8, "opacity": 0.8, "clip": true},
    "encoding": {
     "x": {"field": "h", "type": "quantitative", "title": "Hour", "scale": {"domain": [-1.175, 24.675], "nice": false, "zero": false},
      "axis": {"values": [0,3,6,9,12,15,18,21,24], "labelExpr": "datum.value % 6 == 0 ? (datum.value % 24 < 10 ? '0' : '') + format(datum.value % 24, 'd') : ''", "gridWidth": {"condition": {"test": "datum.value % 6 != 0", "value": 0.55}, "value": 1.1}, "tickOpacity": {"condition": {"test": "datum.value % 6 != 0", "value": 0}, "value": 1}}},
     "y": {"field": "v", "type": "quantitative", "title": "Electricity price $/MWh", "scale": {"domain": [-5.2, 106], "nice": false, "zero": false},
      "axis": {"values": [0,12.5,25,37.5,50,62.5,75,87.5,100], "labelExpr": "datum.value % 25 == 0 ? format(datum.value, 'd') : ''", "gridWidth": {"condition": {"test": "datum.value % 25 != 0", "value": 0.55}, "value": 1.1}, "tickOpacity": {"condition": {"test": "datum.value % 25 != 0", "value": 0}, "value": 1}}},
     "detail": {"field": "s"}, "order": {"field": "h"}}},
   {"data": {"name": "c4"}, "mark": {"type": "line", "color": "#6CC08B", "strokeWidth": 1.8, "clip": true},
    "encoding": {"x": {"field": "h", "type": "quantitative", "title": "Hour"}, "y": {"field": "v", "type": "quantitative", "title": "Electricity price $/MWh"}}}
  ]}
]}
]
}
